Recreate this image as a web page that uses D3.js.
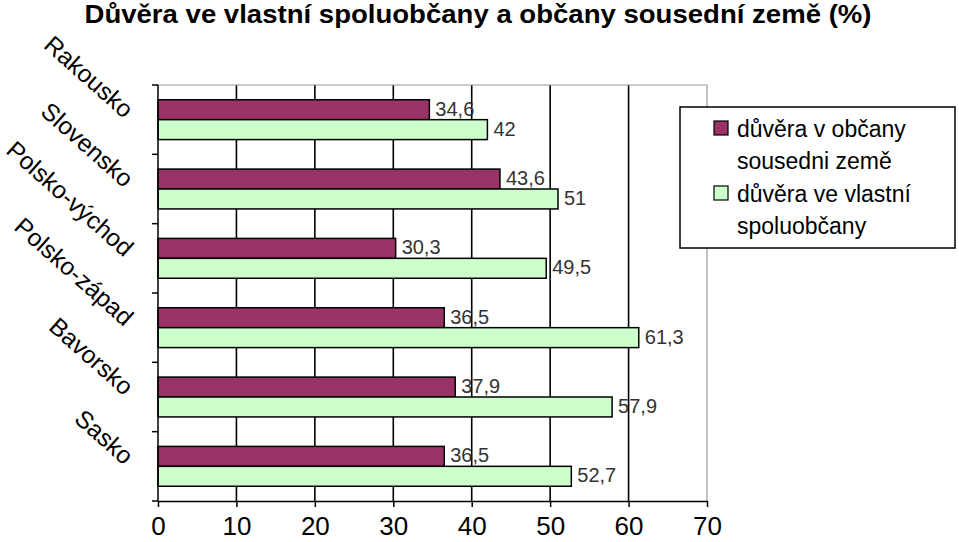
<!DOCTYPE html>
<html>
<head>
<meta charset="utf-8">
<script src="https://cdn.jsdelivr.net/npm/d3@7"></script>
<style>
  body { margin: 0; background: #fff; }
  svg { font-family: Arial, "Liberation Sans", sans-serif; }
</style>
</head>
<body>
<div id="chart"></div>
<script>
// Chart data
const categories = ["Rakousko", "Slovensko", "Polsko-východ", "Polsko-západ", "Bavorsko", "Sasko"];
const neighbourTrust = [34.6, 43.6, 30.3, 36.5, 37.9, 36.5];
const ownTrust = [42, 51, 49.5, 61.3, 57.9, 52.7];
const xTicks = [0, 10, 20, 30, 40, 50, 60, 70];
const seriesNames = [["důvěra v občany", "sousedni země"], ["důvěra ve vlastní", "spoluobčany"]];
const colors = ["#993366", "#CCFFCC"];

const W = 959, H = 542;
const plot = {left: 158, right: 707, top: 85, bottom: 501};

const svg = d3.select("#chart").append("svg")
	.attr("width", W)
	.attr("height", H);

// Title
svg.append("text")
	.attr("x", 478)
	.attr("y", 23)
	.attr("text-anchor", "middle")
	.attr("font-size", 25)
	.attr("font-weight", "bold")
	.attr("textLength", 787)
	.attr("lengthAdjust", "spacingAndGlyphs")
	.text("Důvěra  ve vlastní spoluobčany a občany sousední země (%)");

const x = d3.scaleLinear().domain([0, 70]).range([plot.left, plot.right]);
const y = d3.scaleBand().domain(categories).range([plot.top, plot.bottom]);
const inner = d3.scaleBand().domain([0, 1]).range([0, y.bandwidth()]).paddingInner(0).paddingOuter(0.74);

// Grid lines
svg.append("g")
	.selectAll("line")
	.data(xTicks.slice(1, -1))
	.join("line")
	.attr("x1", d => x(d)).attr("x2", d => x(d))
	.attr("y1", plot.top).attr("y2", plot.bottom)
	.attr("stroke", "#000")
	.attr("stroke-width", 1.6);

// Top and right border
svg.append("path")
	.attr("d", `M${plot.left},${plot.top}H${plot.right}V${plot.bottom}`)
	.attr("fill", "none")
	.attr("stroke", "#999")
	.attr("stroke-width", 1.2);

// Bars
const series = [neighbourTrust, ownTrust];
series.forEach((vals, si) => {
	svg.append("g")
		.selectAll("rect")
		.data(vals)
		.join("rect")
		.attr("x", x(0))
		.attr("y", (d, i) => y(categories[i]) + inner(si))
		.attr("width", d => x(d) - x(0))
		.attr("height", inner.bandwidth())
		.attr("fill", colors[si])
		.attr("stroke", "#000")
		.attr("stroke-width", 1.5);

	svg.append("g")
		.selectAll("text")
		.data(vals)
		.join("text")
		.attr("x", d => x(d) + 6)
		.attr("y", (d, i) => y(categories[i]) + inner(si) + inner.bandwidth() / 2 + 6)
		.attr("font-size", 20)
		.attr("fill", "#333")
		.text(d => String(d).replace(".", ","));
});

// X axis
const xAxis = svg.append("g")
	.attr("transform", `translate(0,${plot.bottom})`)
	.call(d3.axisBottom(x).tickValues(xTicks).tickSize(6).tickSizeOuter(0).tickPadding(10));
xAxis.select(".domain").attr("stroke", "#000").attr("stroke-width", 1.5);
xAxis.selectAll(".tick line").attr("stroke-width", 1.5);
xAxis.selectAll(".tick text")
	.attr("font-size", 26)
	.attr("font-family", "Arial, 'Liberation Sans', sans-serif")
	.attr("fill", "#000");

// Y axis with ticks on category boundaries
const yAxis = svg.append("g")
	.attr("transform", `translate(${plot.left},0)`);
yAxis.append("line")
	.attr("y1", plot.top).attr("y2", plot.bottom)
	.attr("stroke", "#000").attr("stroke-width", 1.5);
yAxis.selectAll(".ytick")
	.data(categories.map(c => y(c)).concat([plot.bottom]))
	.join("line")
	.attr("class", "ytick")
	.attr("x1", -6).attr("x2", 0)
	.attr("y1", d => d).attr("y2", d => d)
	.attr("stroke", "#000").attr("stroke-width", 1.5);

// Rotated category labels
svg.append("g")
	.selectAll("text")
	.data(categories)
	.join("text")
	.attr("transform", d => `translate(124,${y(d) + y.bandwidth() / 2 - 0.5}) rotate(41.5)`)
	.attr("text-anchor", "end")
	.attr("font-size", 24.5)
	.text(d => d);

// Legend
const legend = svg.append("g");
legend.append("rect")
	.attr("x", 680).attr("y", 107)
	.attr("width", 275).attr("height", 141)
	.attr("fill", "#fff")
	.attr("stroke", "#000")
	.attr("stroke-width", 1.5);
seriesNames.forEach((lines, i) => {
	const top = 121 + i * 65;
	legend.append("rect")
		.attr("x", 714).attr("y", top)
		.attr("width", 14).attr("height", 14)
		.attr("fill", colors[i])
		.attr("stroke", "#000")
		.attr("stroke-width", 1.2);
	lines.forEach((t, j) => {
		legend.append("text")
			.attr("x", 737)
			.attr("y", top + 16 + j * 32)
			.attr("font-size", 23)
			.text(t);
	});
});
</script>
</body>
</html>
